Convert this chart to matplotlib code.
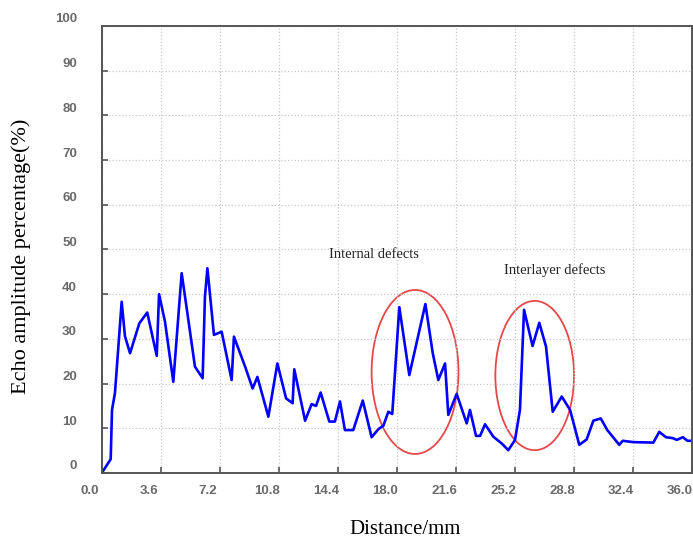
import matplotlib
matplotlib.use("Agg")
import matplotlib.pyplot as plt
import matplotlib.transforms as mtransforms
from matplotlib.patches import Ellipse

# echo amplitude
distance = [0.04, 0.53, 0.61, 0.79, 1.20, 1.40, 1.71, 2.28, 2.76, 3.34, 3.48, 3.84,
            4.35, 4.86, 5.27, 5.67, 6.14, 6.28, 6.43, 6.83, 7.30, 7.91, 8.05, 8.73,
            9.19, 9.48, 10.15, 10.70, 11.23, 11.63, 11.73, 12.39, 12.79, 13.06, 13.34,
            13.87, 14.21, 14.52, 14.82, 15.33, 15.91, 16.45, 16.86, 17.17, 17.47, 17.71,
            18.14, 18.75, 19.73, 20.18, 20.52, 20.93, 21.13, 21.64, 22.25, 22.45, 22.82,
            23.07, 23.37, 23.88, 24.39, 24.79, 25.20, 25.50, 25.75, 26.27, 26.68, 27.09,
            27.50, 28.05, 28.56, 29.12, 29.57, 29.98, 30.43, 30.83, 31.56, 31.77, 32.42,
            33.64, 34.00, 34.41, 34.82, 35.07, 35.44, 35.72, 36.00]
amplitude = [0.3, 3.1, 14.1, 17.9, 38.3, 30.6, 26.8, 33.5, 35.9, 26.2, 40.0, 33.9,
             20.4, 44.7, 34.2, 23.8, 21.2, 39.4, 45.8, 30.9, 31.6, 20.8, 30.5, 23.8,
             18.9, 21.5, 12.6, 24.5, 16.7, 15.6, 23.2, 11.7, 15.4, 15.0, 18.0,
             11.5, 11.5, 16.0, 9.6, 9.6, 16.2, 8.0, 9.8, 10.6, 13.7, 13.2,
             37.1, 21.9, 37.8, 26.8, 20.8, 24.5, 13.0, 17.7, 11.1, 14.1, 8.3,
             8.3, 10.9, 8.1, 6.6, 5.1, 7.4, 14.1, 36.5, 28.4, 33.6, 28.3,
             13.7, 17.1, 14.1, 6.3, 7.5, 11.7, 12.2, 9.6, 6.3, 7.2, 6.9,
             6.8, 9.2, 8.0, 7.8, 7.4, 8.0, 7.2, 7.2]

x_ticks = [0.0, 3.6, 7.2, 10.8, 14.4, 18.0, 21.6, 25.2, 28.8, 32.4, 36.0]
y_ticks = [0, 10, 20, 30, 40, 50, 60, 70, 80, 90, 100]

# defect regions: centre x, centre y, width, height, label, label x, label y
regions = [
    (19.1, 22.6, 5.3, 36.7, "Internal defects", 16.6, 48.8),
    (26.4, 21.8, 4.8, 33.4, "Interlayer defects", 27.6, 45.3),
]

serif = ["Liberation Serif", "DejaVu Serif"]

fig = plt.figure(figsize=(6.93, 5.4), dpi=100)
ax = fig.add_axes([0.1472, 0.1241, 0.8514, 0.8278])

ax.plot(distance, amplitude, color="#0000ff", linewidth=1.9)

for cx, cy, w, h, label, tx, ty in regions:
    ax.add_patch(Ellipse((cx, cy), w, h, fill=False, edgecolor="#e8474a", linewidth=1.3))
    ax.text(tx, ty, label, family=serif, fontsize=10.5, ha="center", va="center", color="#222222")

ax.set_xlim(0, 36)
ax.set_ylim(0, 100)
ax.set_xticks(x_ticks)
ax.set_xticklabels([f"{v:.1f}" for v in x_ticks])
ax.set_yticks(y_ticks)
ax.set_yticklabels([str(v) for v in y_ticks])

ax.grid(True, linestyle=":", color="#c8c8c8", linewidth=0.9)
ax.tick_params(direction="in", length=4, width=1.2, color="#555555",
               labelsize=9.5, labelcolor="#6a6a6a")
ax.tick_params(axis="x", pad=9)
ax.tick_params(axis="y", pad=18)
for lab in ax.get_xticklabels() + ax.get_yticklabels():
    lab.set_family(["Liberation Sans", "DejaVu Sans"])
    lab.set_fontweight("bold")

# tick labels in the reference sit slightly off their ticks
shift_x = mtransforms.ScaledTranslation(-12 / 100, 0, fig.dpi_scale_trans)
shift_y = mtransforms.ScaledTranslation(0, 8 / 100, fig.dpi_scale_trans)
for lab in ax.get_xticklabels():
    lab.set_transform(lab.get_transform() + shift_x)
for lab in ax.get_yticklabels():
    lab.set_transform(lab.get_transform() + shift_y)

for s in ax.spines.values():
    s.set_color("#555555")
    s.set_linewidth(1.4)

fig.text(0.585, 0.019, "Distance/mm", family=serif, fontsize=15, ha="center", va="center")
fig.text(0.03, 0.525, "Echo amplitude percentage(%)", family=serif, fontsize=16,
         rotation=90, ha="center", va="center")

fig.savefig("out.png", dpi=100)
